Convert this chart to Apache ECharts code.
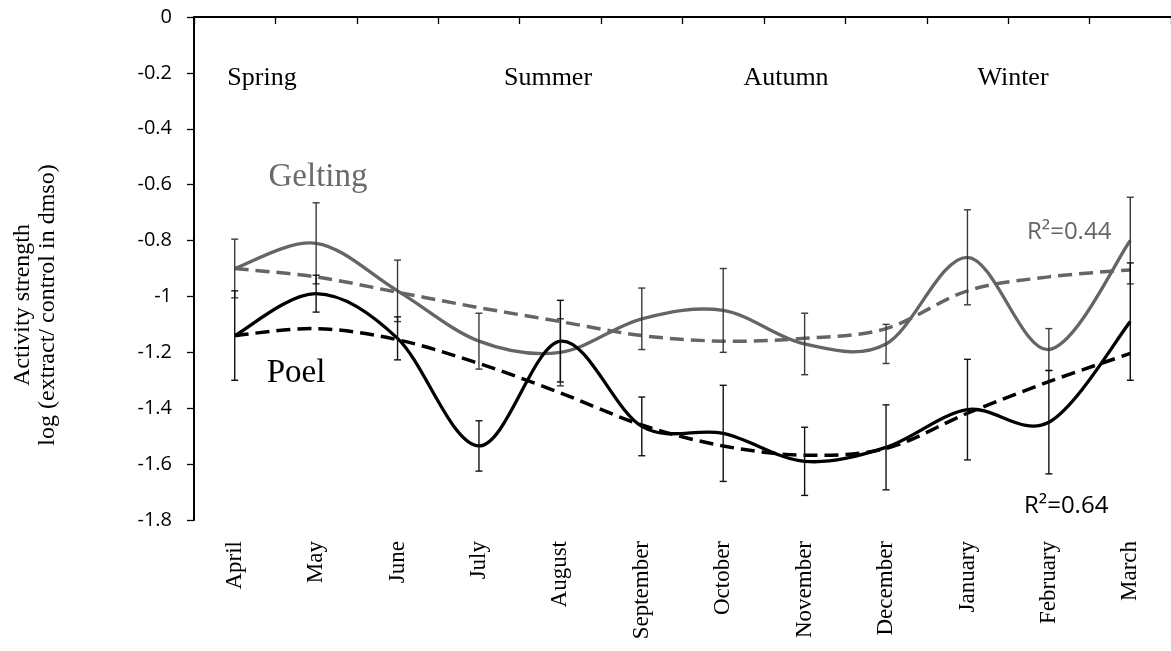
<!DOCTYPE html>
<html>
<head>
<meta charset="utf-8">
<title>Seasonal activity strength</title>
<script src="https://cdn.jsdelivr.net/npm/echarts@6/dist/echarts.min.js"></script>
<style>
  html, body { margin: 0; padding: 0; background: #fff; }
  #chart { width: 1171px; height: 651px; }
</style>
</head>
<body>
<div id="chart"></div>
<script>
// Sampling months, April to March
const months = ['April', 'May', 'June', 'July', 'August', 'September',
  'October', 'November', 'December', 'January', 'February', 'March'];

// Gelting: monthly means, error half-widths and fitted trend
const geltingMean  = [-0.90, -0.81, -0.98, -1.16, -1.20, -1.08, -1.05, -1.17, -1.17, -0.86, -1.19, -0.80];
const geltingErr   = [0.105, 0.145, 0.11, 0.10, 0.12, 0.11, 0.15, 0.11, 0.07, 0.17, 0.075, 0.155];
const geltingTrend = [-0.90, -0.93, -0.985, -1.04, -1.09, -1.14, -1.16, -1.15, -1.115, -0.98, -0.93, -0.905];

// Poel: monthly means, error half-widths and fitted trend
const poelMean  = [-1.14, -0.99, -1.15, -1.535, -1.16, -1.465, -1.49, -1.59, -1.54, -1.405, -1.45, -1.09];
const poelErr   = [0.16, 0.066, 0.077, 0.09, 0.146, 0.105, 0.172, 0.122, 0.152, 0.18, 0.185, 0.21];
const poelTrend = [-1.14, -1.115, -1.155, -1.24, -1.345, -1.46, -1.535, -1.568, -1.544, -1.418, -1.305, -1.204];

// Season headings and fit annotations
const seasons = ['Spring', 'Summer', 'Autumn', 'Winter'];
const geltingR2 = 'R²=0.44';
const poelR2 = 'R²=0.64';

const SERIF = '"Liberation Serif", "Times New Roman", serif';
const SANS = '"Open Sans", "Liberation Sans", sans-serif';
const GRAY = '#656565';

function errorRows(mean, err) {
  return mean.map((m, i) => [i, m - err[i], m + err[i]]);
}

function errorBar(color) {
  return function (params, api) {
    const i = api.value(0);
    const lo = api.coord([i, api.value(1)]);
    const hi = api.coord([i, api.value(2)]);
    const w = 3.5;
    const style = { stroke: color, lineWidth: 1.4 };
    return {
      type: 'group',
      children: [
        { type: 'line', shape: { x1: lo[0], y1: lo[1], x2: hi[0], y2: hi[1] }, style },
        { type: 'line', shape: { x1: lo[0] - w, y1: lo[1], x2: lo[0] + w, y2: lo[1] }, style },
        { type: 'line', shape: { x1: hi[0] - w, y1: hi[1], x2: hi[0] + w, y2: hi[1] }, style }
      ]
    };
  };
}

// Cubic Bezier path through the points (Catmull-Rom tangents, ends clamped)
function smoothPath(pts) {
  let d = 'M' + pts[0][0] + ',' + pts[0][1];
  const n = pts.length;
  for (let i = 0; i < n - 1; i++) {
    const p0 = pts[Math.max(i - 1, 0)], p1 = pts[i], p2 = pts[i + 1], p3 = pts[Math.min(i + 2, n - 1)];
    const c1x = p1[0] + (p2[0] - p0[0]) / 6, c1y = p1[1] + (p2[1] - p0[1]) / 6;
    const c2x = p2[0] - (p3[0] - p1[0]) / 6, c2y = p2[1] - (p3[1] - p1[1]) / 6;
    d += ' C' + c1x + ',' + c1y + ' ' + c2x + ',' + c2y + ' ' + p2[0] + ',' + p2[1];
  }
  return d;
}

// Whole curve drawn once, from the first item, through the axis scales
function curve(values, style) {
  return function (params, api) {
    if (params.dataIndex !== 0) return null;
    const pts = values.map((v, i) => api.coord([i, v]));
    return {
      type: 'path',
      shape: { pathData: smoothPath(pts) },
      style: Object.assign({ fill: 'none', lineJoin: 'round' }, style)
    };
  };
}

function curveSeries(name, values, style, z) {
  return {
    name, type: 'custom', data: values.map((v, i) => [i, v]), encode: { x: 0, y: 1 },
    renderItem: curve(values, style), z, silent: true
  };
}

function textEl(text, x, y, font, fill, align, rotation) {
  return {
    type: 'text', x, y, rotation: rotation || 0, silent: true,
    style: { text, font, fill, align: align || 'center', verticalAlign: 'middle', lineHeight: 25 }
  };
}

const chart = echarts.init(document.getElementById('chart'), null, { renderer: 'canvas' });

chart.setOption({
  animation: false,
  backgroundColor: '#ffffff',
  grid: { left: 194, top: 17, right: -6, bottom: 131, containLabel: false },
  xAxis: [
    {
      type: 'category', data: months, position: 'top', boundaryGap: true,
      axisLine: { show: true, onZero: false, lineStyle: { color: '#000', width: 2 } },
      axisTick: { show: true, inside: true, length: 7, lineStyle: { color: '#000', width: 1.3 } },
      axisLabel: { show: false },
      splitLine: { show: false }
    },
    {
      type: 'category', data: months, position: 'bottom', boundaryGap: true,
      axisLine: { show: false, onZero: false },
      axisTick: { show: false },
      axisLabel: { rotate: 90, margin: 21, fontFamily: SERIF, fontSize: 23, color: '#000', interval: 0 },
      splitLine: { show: false }
    }
  ],
  yAxis: {
    type: 'value', min: -1.8, max: 0, interval: 0.2,
    axisLine: { show: true, lineStyle: { color: '#000', width: 2 } },
    axisTick: { show: true, length: 7, lineStyle: { color: '#000', width: 1.3 } },
    splitLine: { show: false },
    axisLabel: {
      margin: 22, fontFamily: SANS, fontSize: 20, color: '#000',
      formatter: v => String(+(+v).toFixed(1))
    }
  },
  series: [
    curveSeries('Gelting trend', geltingTrend, { stroke: GRAY, lineWidth: 3.5, lineDash: [14, 7], lineCap: 'butt' }, 2),
    curveSeries('Poel trend', poelTrend, { stroke: '#000', lineWidth: 3.5, lineDash: [14, 7], lineCap: 'butt' }, 2),
    curveSeries('Gelting', geltingMean, { stroke: GRAY, lineWidth: 3.3 }, 3),
    curveSeries('Poel', poelMean, { stroke: '#000', lineWidth: 3.3 }, 3),
    {
      name: 'Gelting error', type: 'custom', renderItem: errorBar('#3a3a3a'),
      data: errorRows(geltingMean, geltingErr), encode: { x: 0, y: [1, 2] }, z: 4, silent: true
    },
    {
      name: 'Poel error', type: 'custom', renderItem: errorBar('#111111'),
      data: errorRows(poelMean, poelErr), encode: { x: 0, y: [1, 2] }, z: 4, silent: true
    }
  ],
  graphic: [
    textEl(seasons[0], 262, 78, '26px ' + SERIF, '#000'),
    textEl(seasons[1], 548, 78, '26px ' + SERIF, '#000'),
    textEl(seasons[2], 786, 78, '26px ' + SERIF, '#000'),
    textEl(seasons[3], 1013, 78, '26px ' + SERIF, '#000'),
    textEl('Gelting', 318, 177, '33px ' + SERIF, '#6a6a6a'),
    textEl('Poel', 296, 373, '33px ' + SERIF, '#000'),
    textEl(geltingR2, 1027, 232, '24px ' + SANS, GRAY, 'left'),
    textEl(poelR2, 1024, 506, '24px ' + SANS, '#000', 'left'),
    textEl('Activity strength\nlog (extract/ control in dmso)', 35, 305, '24px ' + SERIF, '#000', 'center', Math.PI / 2)
  ]
});
</script>
</body>
</html>
